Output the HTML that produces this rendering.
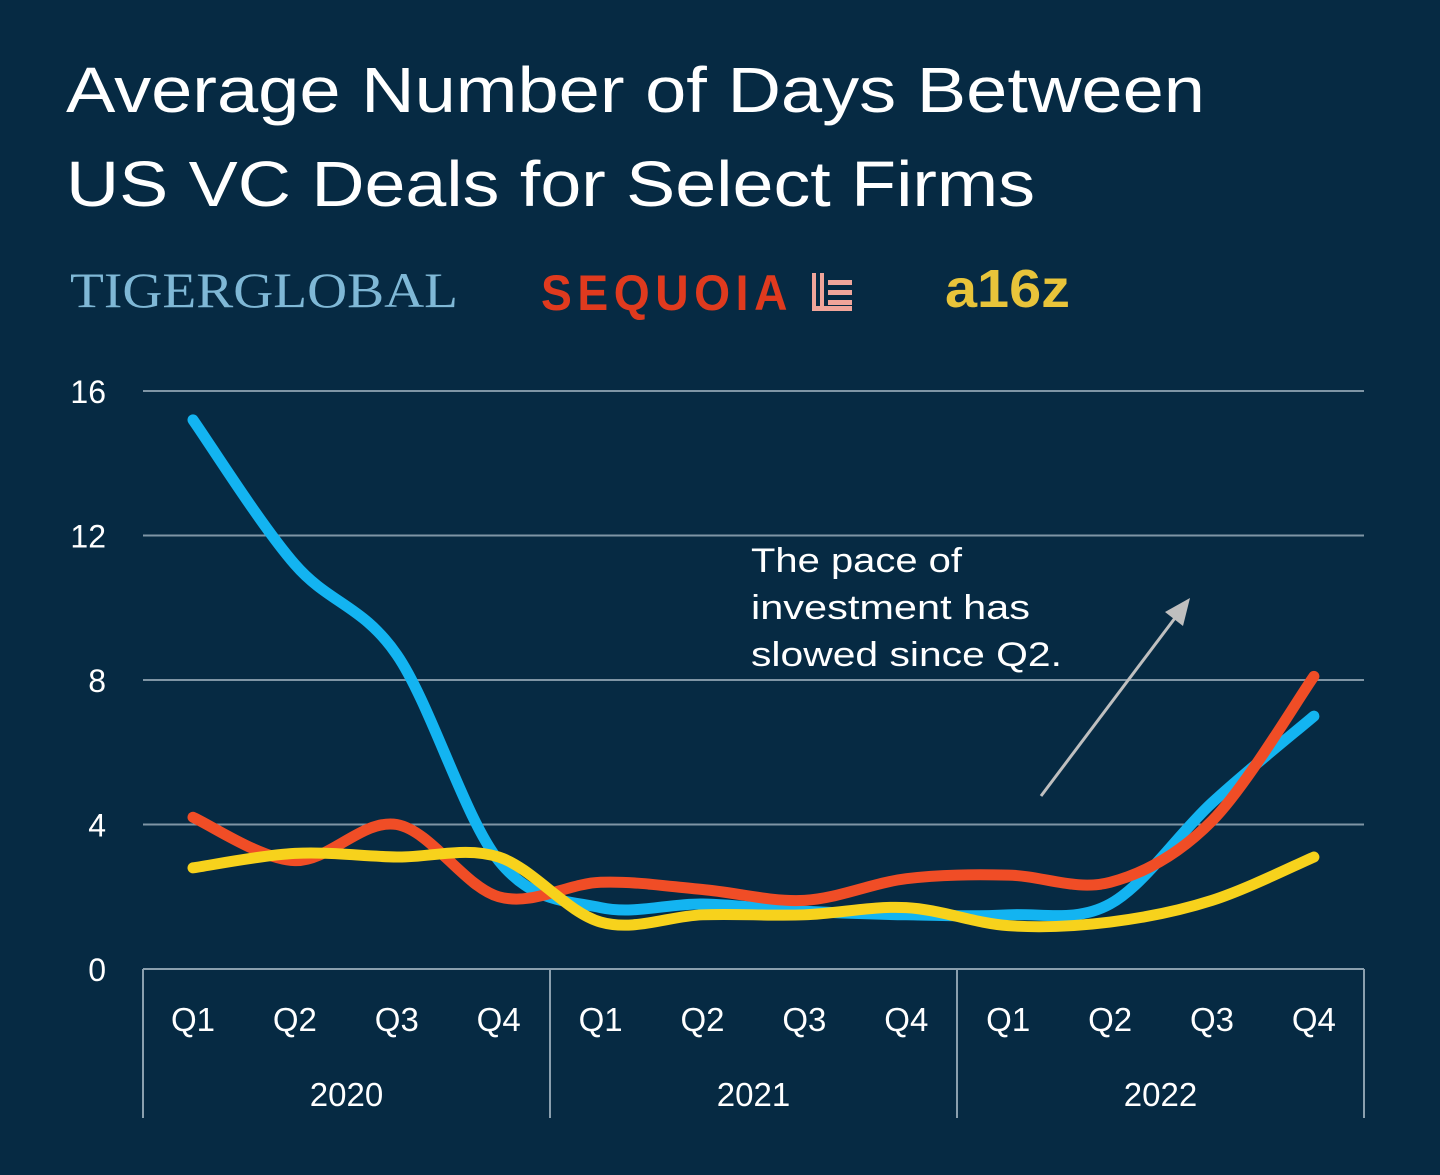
<!DOCTYPE html>
<html><head><meta charset="utf-8"><style>
body{margin:0;background:#062a43;width:1440px;height:1170px;overflow:hidden;font-family:"Liberation Sans",sans-serif;}
</style></head><body>
<svg width="1440" height="1170">
<rect width="1440" height="1170" fill="#062a43"/>
<text x="66" y="112" font-size="64" fill="#fff" textLength="1139" lengthAdjust="spacingAndGlyphs">Average Number of Days Between</text>
<text x="66" y="206" font-size="64" fill="#fff" textLength="969" lengthAdjust="spacingAndGlyphs">US VC Deals for Select Firms</text>
<g>
<text x="70" y="307" font-family="Liberation Serif,serif" font-size="50" fill="#7fb8d6" textLength="388" lengthAdjust="spacingAndGlyphs">TIGERGLOBAL</text>
<text x="541" y="310" font-size="50" font-weight="bold" fill="#e03a1e" letter-spacing="6" textLength="252" lengthAdjust="spacingAndGlyphs">SEQUOIA</text>
<g fill="#f0a59a"><rect x="812" y="273" width="4" height="38"/><rect x="820" y="273" width="4" height="38"/><rect x="828" y="280" width="24" height="5"/><rect x="828" y="290" width="24" height="5"/><rect x="828" y="300" width="24" height="5"/><rect x="812" y="306" width="40" height="5"/></g>
<text x="945" y="307" font-size="54" font-weight="bold" fill="#e8c43a" textLength="125" lengthAdjust="spacingAndGlyphs">a16z</text>
</g>
<g id="grid"></g><g id="axis"></g><g id="lines"></g>
<g>
<text x="751" y="572" font-size="34" fill="#fff" textLength="211" lengthAdjust="spacingAndGlyphs">The pace of</text>
<text x="751" y="619" font-size="34" fill="#fff" textLength="279" lengthAdjust="spacingAndGlyphs">investment has</text>
<text x="751" y="666" font-size="34" fill="#fff" textLength="311" lengthAdjust="spacingAndGlyphs">slowed since Q2.</text>
<line x1="1041" y1="796" x2="1178" y2="614" stroke="#bfbfbf" stroke-width="3"/>
<polygon points="1190,598 1165,612 1183,626" fill="#bfbfbf"/>
</g>
</svg>
<script>
const quarters=["Q1","Q2","Q3","Q4","Q1","Q2","Q3","Q4","Q1","Q2","Q3","Q4"];
const years=["2020","2021","2022"];
const yTicks=[0,4,8,12,16];
const tiger=[15.2,11.2,8.7,3.0,1.7,1.8,1.6,1.5,1.5,1.8,4.6,7.0];
const sequoia=[4.2,3.0,4.0,2.0,2.4,2.2,1.9,2.5,2.6,2.4,4.1,8.1];
const a16z=[2.8,3.2,3.1,3.1,1.3,1.5,1.5,1.7,1.2,1.3,1.9,3.1];
const NS="http://www.w3.org/2000/svg";
const X=i=>193+i*101.9, Y=v=>969-v*36.125;
function mk(t,a,p){const e=document.createElementNS(NS,t);for(const k in a)e.setAttribute(k,a[k]);p.appendChild(e);return e;}
const grid=document.getElementById('grid'),axis=document.getElementById('axis'),lines=document.getElementById('lines');
yTicks.forEach(v=>{
 if(v>0){const l=mk('line',{x1:143,x2:1364,y1:Y(v),y2:Y(v),stroke:'#7f95a5','stroke-width':2},grid);
 
 }
 const t=mk('text',{x:106,y:Y(v)+12,'font-size':32,fill:'#fff','text-anchor':'end'},grid);t.textContent=v;
 
 
});
const b=mk('line',{x1:143,x2:1364,y1:969,y2:969,stroke:'#8a9fae','stroke-width':2},axis);


[0,1,2,3].forEach(k=>{const x=143+k*407;const l=mk('line',{x1:x,x2:x,y1:969,y2:1118,stroke:'#8a9fae','stroke-width':2},axis);
 
 });
quarters.forEach((q,i)=>{const t=mk('text',{x:X(i),y:1031,'font-size':33,fill:'#fff','text-anchor':'middle'},axis);t.textContent=q;
 
 });
years.forEach((y,k)=>{const t=mk('text',{x:346.5+k*407,y:1106,'font-size':33,fill:'#fff','text-anchor':'middle'},axis);t.textContent=y;
 
 });
function path(d){const p=d.map((v,i)=>[X(i),Y(v)]);let s=`M${p[0][0]},${p[0][1]}`;
 for(let i=0;i<p.length-1;i++){const p0=p[i-1]||p[i],p1=p[i],p2=p[i+1],p3=p[i+2]||p2;
  s+=` C${p1[0]+(p2[0]-p0[0])/6},${p1[1]+(p2[1]-p0[1])/6} ${p2[0]-(p3[0]-p1[0])/6},${p2[1]-(p3[1]-p1[1])/6} ${p2[0]},${p2[1]}`;}
 return s;}
[[tiger,'#13b4f1','tiger-global-line'],[sequoia,'#f04d26','sequoia-line'],[a16z,'#f7d21c','a16z-line']].forEach(([d,c,n])=>{
 const e=mk('path',{d:path(d),fill:'none',stroke:c,'stroke-width':11,'stroke-linecap':'round'},lines);
 
 
});
</script>
</body></html>
